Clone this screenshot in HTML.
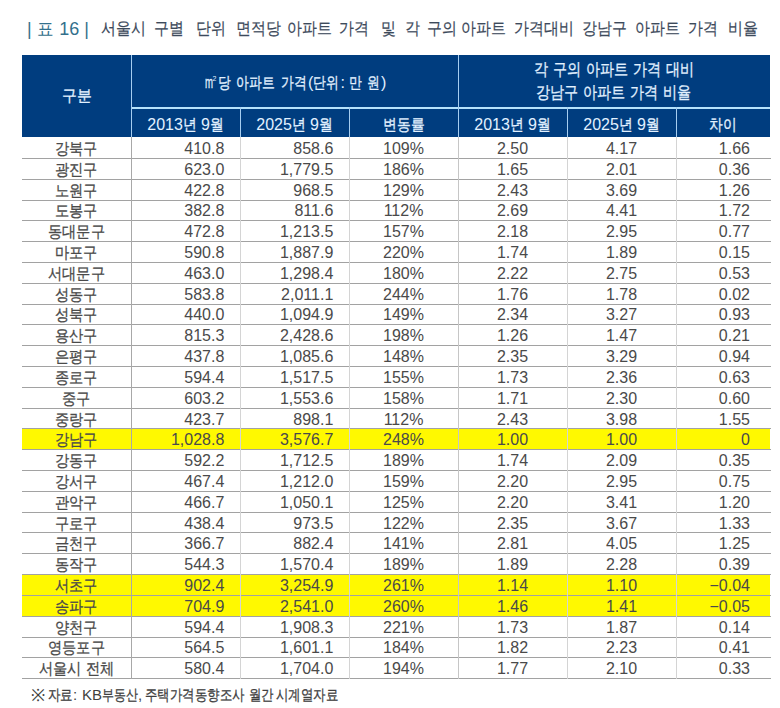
<!DOCTYPE html><html><head><meta charset="utf-8"><style>
*{margin:0;padding:0;box-sizing:border-box}
html,body{width:780px;height:708px;overflow:hidden;background:#fff}
body{position:relative;font-family:"Liberation Sans",sans-serif;}
.a{position:absolute}
.k{display:inline-block;white-space:nowrap;overflow:visible}
.k i{display:inline-block;font-style:normal;transform-origin:0 0;white-space:nowrap;-webkit-text-stroke:0.3px currentColor}
.t{position:absolute;white-space:nowrap;font-size:16px;line-height:20px;color:#4a4a4a}
.h{position:absolute;white-space:nowrap;font-size:16px;line-height:20px;color:#e2f1ff;text-align:center}
.hl{position:absolute;height:1px;background:#a2a2a2}
.vl{position:absolute;width:1px;background:#d4d4d4}
.ti{position:absolute;white-space:nowrap;font-size:16.5px;line-height:20px;color:#3d4a5b}
.ti .k i{-webkit-text-stroke:.2px currentColor}
</style></head><body>
<div class="a" style="left:27px;top:18px;font-size:18px;line-height:22px;white-space:nowrap;color:#33708c">| <span class="k" style="width:17.5px"><i style="transform:scaleX(.92);-webkit-text-stroke:0px">표</i></span> 16 |</div>
<div class="ti" style="left:100.9px;top:18px"><span class="k" style="width:43.56px"><i style="transform:scaleX(0.88)">서울시</i></span></div>
<div class="ti" style="left:153.8px;top:18px"><span class="k" style="width:29.04px"><i style="transform:scaleX(0.88)">구별</i></span></div>
<div class="ti" style="left:195.5px;top:18px"><span class="k" style="width:29.04px"><i style="transform:scaleX(0.88)">단위</i></span></div>
<div class="ti" style="left:235.5px;top:18px"><span class="k" style="width:43.56px"><i style="transform:scaleX(0.88)">면적당</i></span></div>
<div class="ti" style="left:286.8px;top:18px"><span class="k" style="width:43.56px"><i style="transform:scaleX(0.88)">아파트</i></span></div>
<div class="ti" style="left:339.1px;top:18px"><span class="k" style="width:29.04px"><i style="transform:scaleX(0.88)">가격</i></span></div>
<div class="ti" style="left:380.8px;top:18px"><span class="k" style="width:14.52px"><i style="transform:scaleX(0.88)">및</i></span></div>
<div class="ti" style="left:404.8px;top:18px"><span class="k" style="width:14.52px"><i style="transform:scaleX(0.88)">각</i></span></div>
<div class="ti" style="left:427.3px;top:18px"><span class="k" style="width:29.04px"><i style="transform:scaleX(0.88)">구의</i></span></div>
<div class="ti" style="left:460.9px;top:18px"><span class="k" style="width:43.56px"><i style="transform:scaleX(0.88)">아파트</i></span></div>
<div class="ti" style="left:513.8px;top:18px"><span class="k" style="width:58.08px"><i style="transform:scaleX(0.88)">가격대비</i></span></div>
<div class="ti" style="left:582.4px;top:18px"><span class="k" style="width:43.56px"><i style="transform:scaleX(0.88)">강남구</i></span></div>
<div class="ti" style="left:635.3px;top:18px"><span class="k" style="width:43.56px"><i style="transform:scaleX(0.88)">아파트</i></span></div>
<div class="ti" style="left:688.2px;top:18px"><span class="k" style="width:29.04px"><i style="transform:scaleX(0.88)">가격</i></span></div>
<div class="ti" style="left:728.2px;top:18px"><span class="k" style="width:29.04px"><i style="transform:scaleX(0.88)">비율</i></span></div>
<div class="a" style="left:22px;top:55px;width:748px;height:82px;background:#003d7f"></div>
<div class="a" style="left:131px;top:107px;width:639px;height:2px;background:#b5e2fb"></div>
<div class="a" style="left:240px;top:107px;width:1px;height:30px;background:#a6cdf0"></div>
<div class="a" style="left:349px;top:107px;width:1px;height:30px;background:#a6cdf0"></div>
<div class="a" style="left:567px;top:107px;width:1px;height:30px;background:#a6cdf0"></div>
<div class="a" style="left:676px;top:107px;width:1px;height:30px;background:#a6cdf0"></div>
<div class="a" style="left:131px;top:55px;width:1px;height:82px;background:#a6cdf0"></div>
<div class="a" style="left:458px;top:55px;width:1px;height:82px;background:#a6cdf0"></div>
<div class="h" style="left:23px;width:109px;top:85.5px"><span class="k" style="width:31.62px"><i style="transform:scaleX(0.93)">구분</i></span></div>
<div class="h" style="left:132px;width:327px;top:69px"><span class="k" style="width:8px"><i style="transform:scaleX(.6)">m</i></span><sup style="font-size:7px;vertical-align:7px;margin-right:1px">2</sup><span class="k" style="width:13.60px"><i style="transform:scaleX(0.8)">당</i></span>&nbsp;<span class="k" style="width:40.80px"><i style="transform:scaleX(0.8)">아파트</i></span>&nbsp;<span class="k" style="width:27.20px"><i style="transform:scaleX(0.8)">가격</i></span>(<span class="k" style="width:27.20px"><i style="transform:scaleX(0.8)">단위</i></span>: <span class="k" style="width:13.60px"><i style="transform:scaleX(0.8)">만</i></span>&nbsp;<span class="k" style="width:13.60px"><i style="transform:scaleX(0.8)">원</i></span>)</div>
<div class="h" style="left:458px;width:312px;top:60px;font-size:17px"><span class="k" style="width:14.11px"><i style="transform:scaleX(0.83)">각</i></span>&nbsp;<span class="k" style="width:28.22px"><i style="transform:scaleX(0.83)">구의</i></span>&nbsp;<span class="k" style="width:42.33px"><i style="transform:scaleX(0.83)">아파트</i></span>&nbsp;<span class="k" style="width:28.22px"><i style="transform:scaleX(0.83)">가격</i></span>&nbsp;<span class="k" style="width:28.22px"><i style="transform:scaleX(0.83)">대비</i></span></div>
<div class="h" style="left:458px;width:312px;top:83px;font-size:17px"><span class="k" style="width:42.33px"><i style="transform:scaleX(0.83)">강남구</i></span>&nbsp;<span class="k" style="width:42.33px"><i style="transform:scaleX(0.83)">아파트</i></span>&nbsp;<span class="k" style="width:28.22px"><i style="transform:scaleX(0.83)">가격</i></span>&nbsp;<span class="k" style="width:28.22px"><i style="transform:scaleX(0.83)">비율</i></span></div>
<div class="h" style="left:131px;width:109px;top:114.5px">2013<span class="k" style="width:13.76px"><i style="transform:scaleX(0.86)">년</i></span> 9<span class="k" style="width:13.76px"><i style="transform:scaleX(0.86)">월</i></span></div>
<div class="h" style="left:240px;width:109px;top:114.5px">2025<span class="k" style="width:13.76px"><i style="transform:scaleX(0.86)">년</i></span> 9<span class="k" style="width:13.76px"><i style="transform:scaleX(0.86)">월</i></span></div>
<div class="h" style="left:349px;width:109px;top:114.5px"><span class="k" style="width:41.28px"><i style="transform:scaleX(0.86)">변동률</i></span></div>
<div class="h" style="left:458px;width:109px;top:114.5px">2013<span class="k" style="width:13.76px"><i style="transform:scaleX(0.86)">년</i></span> 9<span class="k" style="width:13.76px"><i style="transform:scaleX(0.86)">월</i></span></div>
<div class="h" style="left:567px;width:109px;top:114.5px">2025<span class="k" style="width:13.76px"><i style="transform:scaleX(0.86)">년</i></span> 9<span class="k" style="width:13.76px"><i style="transform:scaleX(0.86)">월</i></span></div>
<div class="h" style="left:676px;width:94px;top:114.5px"><span class="k" style="width:27.52px"><i style="transform:scaleX(0.86)">차이</i></span></div>
<div class="a" style="left:22px;top:428.74px;width:748px;height:20.81px;background:#fff900"></div>
<div class="a" style="left:22px;top:574.41px;width:748px;height:20.81px;background:#fff900"></div>
<div class="a" style="left:22px;top:595.22px;width:748px;height:20.81px;background:#fff900"></div>
<div class="hl" style="left:22px;top:157.91px;width:749px"></div>
<div class="hl" style="left:22px;top:178.72px;width:749px"></div>
<div class="hl" style="left:22px;top:199.53px;width:749px"></div>
<div class="hl" style="left:22px;top:220.34px;width:749px"></div>
<div class="hl" style="left:22px;top:241.15px;width:749px"></div>
<div class="hl" style="left:22px;top:261.96px;width:749px"></div>
<div class="hl" style="left:22px;top:282.77px;width:749px"></div>
<div class="hl" style="left:22px;top:303.58px;width:749px"></div>
<div class="hl" style="left:22px;top:324.39px;width:749px"></div>
<div class="hl" style="left:22px;top:345.20px;width:749px"></div>
<div class="hl" style="left:22px;top:366.01px;width:749px"></div>
<div class="hl" style="left:22px;top:386.82px;width:749px"></div>
<div class="hl" style="left:22px;top:407.63px;width:749px"></div>
<div class="hl" style="left:22px;top:428.44px;width:749px"></div>
<div class="hl" style="left:22px;top:449.25px;width:749px"></div>
<div class="hl" style="left:22px;top:470.06px;width:749px"></div>
<div class="hl" style="left:22px;top:490.87px;width:749px"></div>
<div class="hl" style="left:22px;top:511.68px;width:749px"></div>
<div class="hl" style="left:22px;top:532.49px;width:749px"></div>
<div class="hl" style="left:22px;top:553.30px;width:749px"></div>
<div class="hl" style="left:22px;top:574.11px;width:749px"></div>
<div class="hl" style="left:22px;top:594.92px;width:749px"></div>
<div class="hl" style="left:22px;top:615.73px;width:749px"></div>
<div class="hl" style="left:22px;top:636.54px;width:749px"></div>
<div class="hl" style="left:22px;top:657.35px;width:749px"></div>
<div class="hl" style="left:22px;top:678.16px;width:749px"></div>
<div class="vl" style="left:131px;top:137px;height:542px;background:#a8a8a8"></div>
<div class="vl" style="left:458px;top:137px;height:542px;background:#c6c6c6;width:1px"></div>
<div class="vl" style="left:240px;top:137px;height:542px"></div>
<div class="vl" style="left:349px;top:137px;height:542px"></div>
<div class="vl" style="left:567px;top:137px;height:542px"></div>
<div class="vl" style="left:676px;top:137px;height:542px"></div>
<div class="t" style="left:22px;width:109px;text-align:center;top:139.00px"><span class="k" style="width:42.72px"><i style="transform:scaleX(0.89)">강북구</i></span></div>
<div class="t" style="left:131px;width:93.3px;text-align:right;top:139.00px">410.8</div>
<div class="t" style="left:240px;width:93.3px;text-align:right;top:139.00px">858.6</div>
<div class="t" style="left:349px;width:109px;text-align:center;top:139.00px">109%</div>
<div class="t" style="left:458px;width:109px;text-align:center;top:139.00px">2.50</div>
<div class="t" style="left:567px;width:109px;text-align:center;top:139.00px">4.17</div>
<div class="t" style="left:676px;width:74px;text-align:right;top:139.00px">1.66</div>
<div class="t" style="left:22px;width:109px;text-align:center;top:159.81px"><span class="k" style="width:42.72px"><i style="transform:scaleX(0.89)">광진구</i></span></div>
<div class="t" style="left:131px;width:93.3px;text-align:right;top:159.81px">623.0</div>
<div class="t" style="left:240px;width:93.3px;text-align:right;top:159.81px">1,779.5</div>
<div class="t" style="left:349px;width:109px;text-align:center;top:159.81px">186%</div>
<div class="t" style="left:458px;width:109px;text-align:center;top:159.81px">1.65</div>
<div class="t" style="left:567px;width:109px;text-align:center;top:159.81px">2.01</div>
<div class="t" style="left:676px;width:74px;text-align:right;top:159.81px">0.36</div>
<div class="t" style="left:22px;width:109px;text-align:center;top:180.62px"><span class="k" style="width:42.72px"><i style="transform:scaleX(0.89)">노원구</i></span></div>
<div class="t" style="left:131px;width:93.3px;text-align:right;top:180.62px">422.8</div>
<div class="t" style="left:240px;width:93.3px;text-align:right;top:180.62px">968.5</div>
<div class="t" style="left:349px;width:109px;text-align:center;top:180.62px">129%</div>
<div class="t" style="left:458px;width:109px;text-align:center;top:180.62px">2.43</div>
<div class="t" style="left:567px;width:109px;text-align:center;top:180.62px">3.69</div>
<div class="t" style="left:676px;width:74px;text-align:right;top:180.62px">1.26</div>
<div class="t" style="left:22px;width:109px;text-align:center;top:201.43px"><span class="k" style="width:42.72px"><i style="transform:scaleX(0.89)">도봉구</i></span></div>
<div class="t" style="left:131px;width:93.3px;text-align:right;top:201.43px">382.8</div>
<div class="t" style="left:240px;width:93.3px;text-align:right;top:201.43px">811.6</div>
<div class="t" style="left:349px;width:109px;text-align:center;top:201.43px">112%</div>
<div class="t" style="left:458px;width:109px;text-align:center;top:201.43px">2.69</div>
<div class="t" style="left:567px;width:109px;text-align:center;top:201.43px">4.41</div>
<div class="t" style="left:676px;width:74px;text-align:right;top:201.43px">1.72</div>
<div class="t" style="left:22px;width:109px;text-align:center;top:222.24px"><span class="k" style="width:56.96px"><i style="transform:scaleX(0.89)">동대문구</i></span></div>
<div class="t" style="left:131px;width:93.3px;text-align:right;top:222.24px">472.8</div>
<div class="t" style="left:240px;width:93.3px;text-align:right;top:222.24px">1,213.5</div>
<div class="t" style="left:349px;width:109px;text-align:center;top:222.24px">157%</div>
<div class="t" style="left:458px;width:109px;text-align:center;top:222.24px">2.18</div>
<div class="t" style="left:567px;width:109px;text-align:center;top:222.24px">2.95</div>
<div class="t" style="left:676px;width:74px;text-align:right;top:222.24px">0.77</div>
<div class="t" style="left:22px;width:109px;text-align:center;top:243.05px"><span class="k" style="width:42.72px"><i style="transform:scaleX(0.89)">마포구</i></span></div>
<div class="t" style="left:131px;width:93.3px;text-align:right;top:243.05px">590.8</div>
<div class="t" style="left:240px;width:93.3px;text-align:right;top:243.05px">1,887.9</div>
<div class="t" style="left:349px;width:109px;text-align:center;top:243.05px">220%</div>
<div class="t" style="left:458px;width:109px;text-align:center;top:243.05px">1.74</div>
<div class="t" style="left:567px;width:109px;text-align:center;top:243.05px">1.89</div>
<div class="t" style="left:676px;width:74px;text-align:right;top:243.05px">0.15</div>
<div class="t" style="left:22px;width:109px;text-align:center;top:263.86px"><span class="k" style="width:56.96px"><i style="transform:scaleX(0.89)">서대문구</i></span></div>
<div class="t" style="left:131px;width:93.3px;text-align:right;top:263.86px">463.0</div>
<div class="t" style="left:240px;width:93.3px;text-align:right;top:263.86px">1,298.4</div>
<div class="t" style="left:349px;width:109px;text-align:center;top:263.86px">180%</div>
<div class="t" style="left:458px;width:109px;text-align:center;top:263.86px">2.22</div>
<div class="t" style="left:567px;width:109px;text-align:center;top:263.86px">2.75</div>
<div class="t" style="left:676px;width:74px;text-align:right;top:263.86px">0.53</div>
<div class="t" style="left:22px;width:109px;text-align:center;top:284.67px"><span class="k" style="width:42.72px"><i style="transform:scaleX(0.89)">성동구</i></span></div>
<div class="t" style="left:131px;width:93.3px;text-align:right;top:284.67px">583.8</div>
<div class="t" style="left:240px;width:93.3px;text-align:right;top:284.67px">2,011.1</div>
<div class="t" style="left:349px;width:109px;text-align:center;top:284.67px">244%</div>
<div class="t" style="left:458px;width:109px;text-align:center;top:284.67px">1.76</div>
<div class="t" style="left:567px;width:109px;text-align:center;top:284.67px">1.78</div>
<div class="t" style="left:676px;width:74px;text-align:right;top:284.67px">0.02</div>
<div class="t" style="left:22px;width:109px;text-align:center;top:305.48px"><span class="k" style="width:42.72px"><i style="transform:scaleX(0.89)">성북구</i></span></div>
<div class="t" style="left:131px;width:93.3px;text-align:right;top:305.48px">440.0</div>
<div class="t" style="left:240px;width:93.3px;text-align:right;top:305.48px">1,094.9</div>
<div class="t" style="left:349px;width:109px;text-align:center;top:305.48px">149%</div>
<div class="t" style="left:458px;width:109px;text-align:center;top:305.48px">2.34</div>
<div class="t" style="left:567px;width:109px;text-align:center;top:305.48px">3.27</div>
<div class="t" style="left:676px;width:74px;text-align:right;top:305.48px">0.93</div>
<div class="t" style="left:22px;width:109px;text-align:center;top:326.29px"><span class="k" style="width:42.72px"><i style="transform:scaleX(0.89)">용산구</i></span></div>
<div class="t" style="left:131px;width:93.3px;text-align:right;top:326.29px">815.3</div>
<div class="t" style="left:240px;width:93.3px;text-align:right;top:326.29px">2,428.6</div>
<div class="t" style="left:349px;width:109px;text-align:center;top:326.29px">198%</div>
<div class="t" style="left:458px;width:109px;text-align:center;top:326.29px">1.26</div>
<div class="t" style="left:567px;width:109px;text-align:center;top:326.29px">1.47</div>
<div class="t" style="left:676px;width:74px;text-align:right;top:326.29px">0.21</div>
<div class="t" style="left:22px;width:109px;text-align:center;top:347.10px"><span class="k" style="width:42.72px"><i style="transform:scaleX(0.89)">은평구</i></span></div>
<div class="t" style="left:131px;width:93.3px;text-align:right;top:347.10px">437.8</div>
<div class="t" style="left:240px;width:93.3px;text-align:right;top:347.10px">1,085.6</div>
<div class="t" style="left:349px;width:109px;text-align:center;top:347.10px">148%</div>
<div class="t" style="left:458px;width:109px;text-align:center;top:347.10px">2.35</div>
<div class="t" style="left:567px;width:109px;text-align:center;top:347.10px">3.29</div>
<div class="t" style="left:676px;width:74px;text-align:right;top:347.10px">0.94</div>
<div class="t" style="left:22px;width:109px;text-align:center;top:367.91px"><span class="k" style="width:42.72px"><i style="transform:scaleX(0.89)">종로구</i></span></div>
<div class="t" style="left:131px;width:93.3px;text-align:right;top:367.91px">594.4</div>
<div class="t" style="left:240px;width:93.3px;text-align:right;top:367.91px">1,517.5</div>
<div class="t" style="left:349px;width:109px;text-align:center;top:367.91px">155%</div>
<div class="t" style="left:458px;width:109px;text-align:center;top:367.91px">1.73</div>
<div class="t" style="left:567px;width:109px;text-align:center;top:367.91px">2.36</div>
<div class="t" style="left:676px;width:74px;text-align:right;top:367.91px">0.63</div>
<div class="t" style="left:22px;width:109px;text-align:center;top:388.72px"><span class="k" style="width:28.48px"><i style="transform:scaleX(0.89)">중구</i></span></div>
<div class="t" style="left:131px;width:93.3px;text-align:right;top:388.72px">603.2</div>
<div class="t" style="left:240px;width:93.3px;text-align:right;top:388.72px">1,553.6</div>
<div class="t" style="left:349px;width:109px;text-align:center;top:388.72px">158%</div>
<div class="t" style="left:458px;width:109px;text-align:center;top:388.72px">1.71</div>
<div class="t" style="left:567px;width:109px;text-align:center;top:388.72px">2.30</div>
<div class="t" style="left:676px;width:74px;text-align:right;top:388.72px">0.60</div>
<div class="t" style="left:22px;width:109px;text-align:center;top:409.53px"><span class="k" style="width:42.72px"><i style="transform:scaleX(0.89)">중랑구</i></span></div>
<div class="t" style="left:131px;width:93.3px;text-align:right;top:409.53px">423.7</div>
<div class="t" style="left:240px;width:93.3px;text-align:right;top:409.53px">898.1</div>
<div class="t" style="left:349px;width:109px;text-align:center;top:409.53px">112%</div>
<div class="t" style="left:458px;width:109px;text-align:center;top:409.53px">2.43</div>
<div class="t" style="left:567px;width:109px;text-align:center;top:409.53px">3.98</div>
<div class="t" style="left:676px;width:74px;text-align:right;top:409.53px">1.55</div>
<div class="t" style="left:22px;width:109px;text-align:center;top:430.34px"><span class="k" style="width:42.72px"><i style="transform:scaleX(0.89)">강남구</i></span></div>
<div class="t" style="left:131px;width:93.3px;text-align:right;top:430.34px">1,028.8</div>
<div class="t" style="left:240px;width:93.3px;text-align:right;top:430.34px">3,576.7</div>
<div class="t" style="left:349px;width:109px;text-align:center;top:430.34px">248%</div>
<div class="t" style="left:458px;width:109px;text-align:center;top:430.34px">1.00</div>
<div class="t" style="left:567px;width:109px;text-align:center;top:430.34px">1.00</div>
<div class="t" style="left:676px;width:74px;text-align:right;top:430.34px">0</div>
<div class="t" style="left:22px;width:109px;text-align:center;top:451.15px"><span class="k" style="width:42.72px"><i style="transform:scaleX(0.89)">강동구</i></span></div>
<div class="t" style="left:131px;width:93.3px;text-align:right;top:451.15px">592.2</div>
<div class="t" style="left:240px;width:93.3px;text-align:right;top:451.15px">1,712.5</div>
<div class="t" style="left:349px;width:109px;text-align:center;top:451.15px">189%</div>
<div class="t" style="left:458px;width:109px;text-align:center;top:451.15px">1.74</div>
<div class="t" style="left:567px;width:109px;text-align:center;top:451.15px">2.09</div>
<div class="t" style="left:676px;width:74px;text-align:right;top:451.15px">0.35</div>
<div class="t" style="left:22px;width:109px;text-align:center;top:471.96px"><span class="k" style="width:42.72px"><i style="transform:scaleX(0.89)">강서구</i></span></div>
<div class="t" style="left:131px;width:93.3px;text-align:right;top:471.96px">467.4</div>
<div class="t" style="left:240px;width:93.3px;text-align:right;top:471.96px">1,212.0</div>
<div class="t" style="left:349px;width:109px;text-align:center;top:471.96px">159%</div>
<div class="t" style="left:458px;width:109px;text-align:center;top:471.96px">2.20</div>
<div class="t" style="left:567px;width:109px;text-align:center;top:471.96px">2.95</div>
<div class="t" style="left:676px;width:74px;text-align:right;top:471.96px">0.75</div>
<div class="t" style="left:22px;width:109px;text-align:center;top:492.77px"><span class="k" style="width:42.72px"><i style="transform:scaleX(0.89)">관악구</i></span></div>
<div class="t" style="left:131px;width:93.3px;text-align:right;top:492.77px">466.7</div>
<div class="t" style="left:240px;width:93.3px;text-align:right;top:492.77px">1,050.1</div>
<div class="t" style="left:349px;width:109px;text-align:center;top:492.77px">125%</div>
<div class="t" style="left:458px;width:109px;text-align:center;top:492.77px">2.20</div>
<div class="t" style="left:567px;width:109px;text-align:center;top:492.77px">3.41</div>
<div class="t" style="left:676px;width:74px;text-align:right;top:492.77px">1.20</div>
<div class="t" style="left:22px;width:109px;text-align:center;top:513.58px"><span class="k" style="width:42.72px"><i style="transform:scaleX(0.89)">구로구</i></span></div>
<div class="t" style="left:131px;width:93.3px;text-align:right;top:513.58px">438.4</div>
<div class="t" style="left:240px;width:93.3px;text-align:right;top:513.58px">973.5</div>
<div class="t" style="left:349px;width:109px;text-align:center;top:513.58px">122%</div>
<div class="t" style="left:458px;width:109px;text-align:center;top:513.58px">2.35</div>
<div class="t" style="left:567px;width:109px;text-align:center;top:513.58px">3.67</div>
<div class="t" style="left:676px;width:74px;text-align:right;top:513.58px">1.33</div>
<div class="t" style="left:22px;width:109px;text-align:center;top:534.39px"><span class="k" style="width:42.72px"><i style="transform:scaleX(0.89)">금천구</i></span></div>
<div class="t" style="left:131px;width:93.3px;text-align:right;top:534.39px">366.7</div>
<div class="t" style="left:240px;width:93.3px;text-align:right;top:534.39px">882.4</div>
<div class="t" style="left:349px;width:109px;text-align:center;top:534.39px">141%</div>
<div class="t" style="left:458px;width:109px;text-align:center;top:534.39px">2.81</div>
<div class="t" style="left:567px;width:109px;text-align:center;top:534.39px">4.05</div>
<div class="t" style="left:676px;width:74px;text-align:right;top:534.39px">1.25</div>
<div class="t" style="left:22px;width:109px;text-align:center;top:555.20px"><span class="k" style="width:42.72px"><i style="transform:scaleX(0.89)">동작구</i></span></div>
<div class="t" style="left:131px;width:93.3px;text-align:right;top:555.20px">544.3</div>
<div class="t" style="left:240px;width:93.3px;text-align:right;top:555.20px">1,570.4</div>
<div class="t" style="left:349px;width:109px;text-align:center;top:555.20px">189%</div>
<div class="t" style="left:458px;width:109px;text-align:center;top:555.20px">1.89</div>
<div class="t" style="left:567px;width:109px;text-align:center;top:555.20px">2.28</div>
<div class="t" style="left:676px;width:74px;text-align:right;top:555.20px">0.39</div>
<div class="t" style="left:22px;width:109px;text-align:center;top:576.01px"><span class="k" style="width:42.72px"><i style="transform:scaleX(0.89)">서초구</i></span></div>
<div class="t" style="left:131px;width:93.3px;text-align:right;top:576.01px">902.4</div>
<div class="t" style="left:240px;width:93.3px;text-align:right;top:576.01px">3,254.9</div>
<div class="t" style="left:349px;width:109px;text-align:center;top:576.01px">261%</div>
<div class="t" style="left:458px;width:109px;text-align:center;top:576.01px">1.14</div>
<div class="t" style="left:567px;width:109px;text-align:center;top:576.01px">1.10</div>
<div class="t" style="left:676px;width:74px;text-align:right;top:576.01px">−0.04</div>
<div class="t" style="left:22px;width:109px;text-align:center;top:596.82px"><span class="k" style="width:42.72px"><i style="transform:scaleX(0.89)">송파구</i></span></div>
<div class="t" style="left:131px;width:93.3px;text-align:right;top:596.82px">704.9</div>
<div class="t" style="left:240px;width:93.3px;text-align:right;top:596.82px">2,541.0</div>
<div class="t" style="left:349px;width:109px;text-align:center;top:596.82px">260%</div>
<div class="t" style="left:458px;width:109px;text-align:center;top:596.82px">1.46</div>
<div class="t" style="left:567px;width:109px;text-align:center;top:596.82px">1.41</div>
<div class="t" style="left:676px;width:74px;text-align:right;top:596.82px">−0.05</div>
<div class="t" style="left:22px;width:109px;text-align:center;top:617.63px"><span class="k" style="width:42.72px"><i style="transform:scaleX(0.89)">양천구</i></span></div>
<div class="t" style="left:131px;width:93.3px;text-align:right;top:617.63px">594.4</div>
<div class="t" style="left:240px;width:93.3px;text-align:right;top:617.63px">1,908.3</div>
<div class="t" style="left:349px;width:109px;text-align:center;top:617.63px">221%</div>
<div class="t" style="left:458px;width:109px;text-align:center;top:617.63px">1.73</div>
<div class="t" style="left:567px;width:109px;text-align:center;top:617.63px">1.87</div>
<div class="t" style="left:676px;width:74px;text-align:right;top:617.63px">0.14</div>
<div class="t" style="left:22px;width:109px;text-align:center;top:638.44px"><span class="k" style="width:56.96px"><i style="transform:scaleX(0.89)">영등포구</i></span></div>
<div class="t" style="left:131px;width:93.3px;text-align:right;top:638.44px">564.5</div>
<div class="t" style="left:240px;width:93.3px;text-align:right;top:638.44px">1,601.1</div>
<div class="t" style="left:349px;width:109px;text-align:center;top:638.44px">184%</div>
<div class="t" style="left:458px;width:109px;text-align:center;top:638.44px">1.82</div>
<div class="t" style="left:567px;width:109px;text-align:center;top:638.44px">2.23</div>
<div class="t" style="left:676px;width:74px;text-align:right;top:638.44px">0.41</div>
<div class="t" style="left:22px;width:109px;text-align:center;top:659.25px"><span class="k" style="width:42.72px"><i style="transform:scaleX(0.89)">서울시</i></span>&nbsp;<span class="k" style="width:28.48px"><i style="transform:scaleX(0.89)">전체</i></span></div>
<div class="t" style="left:131px;width:93.3px;text-align:right;top:659.25px">580.4</div>
<div class="t" style="left:240px;width:93.3px;text-align:right;top:659.25px">1,704.0</div>
<div class="t" style="left:349px;width:109px;text-align:center;top:659.25px">194%</div>
<div class="t" style="left:458px;width:109px;text-align:center;top:659.25px">1.77</div>
<div class="t" style="left:567px;width:109px;text-align:center;top:659.25px">2.10</div>
<div class="t" style="left:676px;width:74px;text-align:right;top:659.25px">0.33</div>
<div class="a" style="left:31px;top:685px;font-size:15px;line-height:20px;white-space:nowrap;color:#3f3f3f"><span style="font-size:17px;vertical-align:-1px">※</span></div>
<div class="a" style="left:48px;top:685px;font-size:15px;line-height:20px;white-space:nowrap;color:#3f3f3f"><span class="k" style="width:24.90px"><i style="transform:scaleX(0.83)">자료</i></span>:</div>
<div class="a" style="left:82px;top:685px;font-size:15px;line-height:20px;white-space:nowrap;color:#3f3f3f">KB<span class="k" style="width:36.00px"><i style="transform:scaleX(0.8)">부동산</i></span>,</div>
<div class="a" style="left:144.5px;top:685px;font-size:15px;line-height:20px;white-space:nowrap;color:#3f3f3f"><span class="k" style="width:99.60px"><i style="transform:scaleX(0.83)">주택가격동향조사</i></span></div>
<div class="a" style="left:249.3px;top:685px;font-size:15px;line-height:20px;white-space:nowrap;color:#3f3f3f"><span class="k" style="width:24.90px"><i style="transform:scaleX(0.83)">월간</i></span></div>
<div class="a" style="left:275.8px;top:685px;font-size:15px;line-height:20px;white-space:nowrap;color:#3f3f3f"><span class="k" style="width:62.25px"><i style="transform:scaleX(0.83)">시계열자료</i></span></div>
</body></html>
